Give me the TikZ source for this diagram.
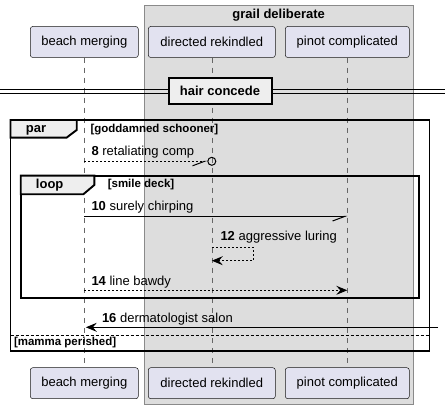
\documentclass[tikz,border=0pt]{standalone}
\usepackage{fontspec}
\setmainfont{Liberation Sans}
\usetikzlibrary{arrows.meta,positioning,calc}
\definecolor{partfill}{HTML}{E2E2F0}
\definecolor{partdraw}{HTML}{181818}
\definecolor{boxfill}{HTML}{DDDDDD}
\definecolor{boxdraw}{HTML}{8A8A8A}
\definecolor{tabfill}{HTML}{EEEEEE}

\begin{document}
\begin{tikzpicture}[
    x=1pt, y=-1pt,
    font=\fontsize{13}{15}\selectfont,
    >={Stealth[length=11pt,width=9pt,inset=4pt]},
    line width=1pt,
    part/.style={draw=partdraw, fill=partfill, line width=0.5pt,
                 rounded corners=2.5pt, minimum height=31pt,
                 inner sep=0pt, font=\fontsize{13}{15}\selectfont},
    lifeline/.style={draw=black!60, line width=0.6pt,
                     dash pattern=on 5pt off 5pt},
    msg/.style={draw=black, line width=1pt},
    dashmsg/.style={draw=black, line width=1pt, dash pattern=on 2pt off 2pt},
    halfbarb/.style={-{Straight Barb[right,length=12pt,width=9pt]}},
    lbl/.style={anchor=west, inner sep=0pt, font=\fontsize{13}{15}\selectfont},
    frame/.style={draw=black, line width=1.9pt},
    tab/.style={draw=black, fill=tabfill, line width=1.9pt},
    tablbl/.style={inner sep=0pt, font=\bfseries\fontsize{13}{15}\selectfont},
    guard/.style={anchor=west, inner sep=0pt, font=\bfseries\fontsize{11.5}{13}\selectfont},
    divider/.style={draw=black, fill=tabfill, line width=2pt,
                    minimum width=103pt, minimum height=26.5pt, inner sep=0pt,
                    font=\bfseries\fontsize{13}{15}\selectfont},
  ]
  \useasboundingbox (0,0) rectangle (445,409);

  % Box round the two grouped participants.
  \draw[draw=boxdraw, fill=boxfill, line width=0.8pt] (144.3,5.7) rectangle (413.3,404);
  \node[font=\bfseries\fontsize{13}{15}\selectfont, inner sep=0pt] (grail) at (278.7,15) {grail deliberate};

  % Participants, top and bottom.
  \node[part, minimum width=108pt] (bmtop) at (84.3,42) {beach merging};
  \node[part, minimum width=127pt] (drtop) at (211.8,42) {directed rekindled};
  \node[part, minimum width=124pt] (pctop) at (347.3,42) {pinot complicated};
  \node[part, minimum width=108pt] (bmbot) at (84.3,383.2) {beach merging};
  \node[part, minimum width=127pt] (drbot) at (211.8,383.2) {directed rekindled};
  \node[part, minimum width=124pt] (pcbot) at (347.3,383.2) {pinot complicated};

  \draw[lifeline] (bmtop.south) -- (bmbot.north);
  \draw[lifeline] (drtop.south) -- (drbot.north);
  \draw[lifeline] (pctop.south) -- (pcbot.north);

  % Divider.
  \coordinate (divl) at (0,91.6);
  \coordinate (divr) at (445,91.6);
  \draw[line width=0.9pt] ([yshift=2.3pt]divl) -- ([yshift=2.3pt]divr);
  \draw[line width=0.9pt] ([yshift=-2.3pt]divl) -- ([yshift=-2.3pt]divr);
  \node[divider] (hair) at (220,91) {hair concede};

  % par frame.
  \draw[frame] (10.5,120) rectangle (429.5,351);
  \draw[tab] (10.5,120) -- (76.7,120) -- (76.7,130) -- (66.5,137.7) -- (10.5,137.7) -- cycle;
  \node[tablbl] (par) at (36,130.5) {par};
  \node[guard] (g1) at (90,130) {[goddamned schooner]};

  % Message 8.
  \coordinate (m8a) at (bmtop |- 0,161.3);
  \node[circle, draw, line width=1pt, minimum size=8pt, inner sep=0pt] (m8o) at (drtop |- 0,161.3) {};
  \draw[dashmsg, halfbarb] (m8a) -- (m8o.west);
  \node[lbl] (l8) at (91,152) {\textbf{8} retaliating comp};

  % loop frame.
  \draw[frame] (20.7,175.7) rectangle (419.3,298.3);
  \draw[tab] (20.7,175.7) -- (94.3,175.7) -- (94.3,185) -- (83.3,194.3) -- (20.7,194.3) -- cycle;
  \node[tablbl] (loop) at (49.7,185.2) {loop};
  \node[guard] (g2) at (107.3,185) {[smile deck]};

  % Message 10.
  \coordinate (m10a) at (bmtop |- 0,216.5);
  \coordinate (m10b) at (pctop |- 0,216.5);
  \draw[msg, halfbarb] (m10a) -- (m10b);
  \node[lbl] (l10) at (91,207) {\textbf{10} surely chirping};

  % Message 12, to itself.
  \coordinate (m12a) at (drtop |- 0,247.3);
  \coordinate (m12b) at (drtop |- 0,260.7);
  \draw[dashmsg, ->] (m12a) -- ++(41.5,0) |- (m12b);
  \node[lbl] (l12) at (220,237.5) {\textbf{12} aggressive luring};

  % Message 14.
  \coordinate (m14a) at (bmtop |- 0,290.3);
  \coordinate (m14b) at (pctop |- 0,290.3);
  \draw[dashmsg, ->] (m14a) -- (m14b);
  \node[lbl] (l14) at (91,282) {\textbf{14} line bawdy};

  % Message 16, coming in from outside.
  \coordinate (m16a) at (438,327.3);
  \coordinate (m16b) at ([xshift=1.5pt]bmtop |- 0,327.3);
  \draw[msg, ->] (m16a) -- (m16b);
  \node[lbl] (l16) at (101.5,319) {\textbf{16} dermatologist salon};

  % else part.
  \draw[dash pattern=on 3pt off 2pt, line width=1pt] (10.5,335.8) -- (429.5,335.8);
  \node[guard] (g3) at (13.5,343) {[mamma perished]};
\end{tikzpicture}
\end{document}
